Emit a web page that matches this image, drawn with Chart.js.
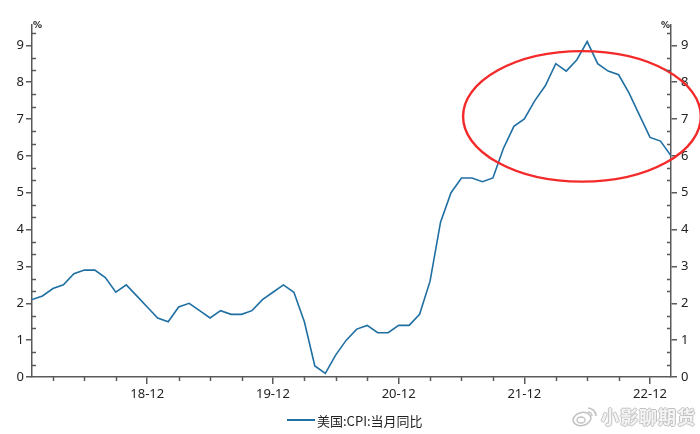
<!DOCTYPE html>
<html>
<head>
<meta charset="utf-8">
<script src="https://cdn.jsdelivr.net/npm/chart.js@4/dist/chart.umd.min.js"></script>
<style>
  html, body { margin: 0; padding: 0; background: #fff; }
  #wrap { position: relative; width: 700px; height: 434px; overflow: hidden; }
  #c { position: absolute; left: 0; top: 0; }
  .pct { position: absolute; font: bold 9px "DejaVu Sans", sans-serif; color: #222; }
  #legend { position: absolute; left: 287px; top: 410px; height: 20px; display: flex; align-items: center;
            font: 13px "Noto Sans CJK SC", sans-serif; color: #222; }
  #legend i { display: inline-block; width: 28px; height: 2px; background: #1f6fa3; margin-right: 2px; }
  #mark { position: absolute; left: 572px; top: 403px; display: flex; align-items: center;
          font: bold 18px "Noto Sans CJK SC", sans-serif; color: #f4f4f4; letter-spacing: 1px;
          text-shadow: 1px 0 0 #c2c2c2, -1px 0 0 #c2c2c2, 0 1px 0 #c2c2c2, 0 -1px 0 #c2c2c2; }
  #mark svg { margin-right: 3px; }
</style>
</head>
<body>
<div id="wrap">
  <canvas id="c" width="700" height="434"></canvas>
  <span class="pct" style="left:33px;top:20px">%</span>
  <span class="pct" style="left:661px;top:20px">%</span>
  <div id="legend"><i></i>美国:CPI:当月同比</div>
  <div id="mark">
    <svg width="26" height="22" viewBox="0 0 26 22">
      <ellipse cx="10" cy="14" rx="9" ry="6.5" fill="none" stroke="#c2c2c2" stroke-width="1.6" transform="rotate(-15 10 14)"/>
      <ellipse cx="9" cy="15" rx="4" ry="3" fill="none" stroke="#c2c2c2" stroke-width="1.4"/>
      <path d="M16 3 A8 8 0 0 1 24 11" fill="none" stroke="#c2c2c2" stroke-width="1.6"/>
      <path d="M16 7 A4 4 0 0 1 20 11" fill="none" stroke="#c2c2c2" stroke-width="1.4"/>
    </svg>小影聊期货
  </div>
</div>
<script>
// US CPI YoY (%), monthly from 2018-01 to 2023-02
const months = [];
for (let y = 2018; y <= 2023; y++) {
  for (let m = 1; m <= 12; m++) {
    if (y === 2023 && m > 2) break;
    months.push(String(y).slice(2) + '-' + String(m).padStart(2, '0'));
  }
}
const cpiYoY = [
  2.1, 2.2, 2.4, 2.5, 2.8, 2.9, 2.9, 2.7, 2.3, 2.5, 2.2, 1.9,
  1.6, 1.5, 1.9, 2.0, 1.8, 1.6, 1.8, 1.7, 1.7, 1.8, 2.1, 2.3,
  2.5, 2.3, 1.5, 0.3, 0.1, 0.6, 1.0, 1.3, 1.4, 1.2, 1.2, 1.4,
  1.4, 1.7, 2.6, 4.2, 5.0, 5.4, 5.4, 5.3, 5.4, 6.2, 6.8, 7.0,
  7.5, 7.9, 8.5, 8.3, 8.6, 9.1, 8.5, 8.3, 8.2, 7.7, 7.1, 6.5,
  6.4, 6.0
];
const xTickLabels = ['18-12', '19-12', '20-12', '21-12', '22-12'];
const yTicks = [0, 1, 2, 3, 4, 5, 6, 7, 8, 9];
const yMax = 9.55;

// month index of each labelled tick
const xTickIdx = xTickLabels.map(l => months.indexOf(l));
const lineColor = '#1f6fa3';
const axisColor = '#5a5a5a';
const tickFont = { family: 'Noto Sans', size: 13 };

const minorTicks = {
  id: 'minorTicks',
  afterDraw(chart) {
    const { ctx, scales } = chart;
    const xs = scales.x, yl = scales.yL, yr = scales.yR;
    ctx.save();
    ctx.strokeStyle = axisColor;
    ctx.lineWidth = 1.5;
    ctx.beginPath();
    // quarterly minor ticks on the date axis
    for (let i = 2; i < months.length; i += 3) {
      if (xTickIdx.includes(i)) continue;
      const px = Math.round(xs.getPixelForValue(i)) + 0.5;
      ctx.moveTo(px, xs.top);
      ctx.lineTo(px, xs.top + 4);
    }
    // one-third minor ticks on both value axes, pointing inward
    for (let k = 1; k / 3 < yMax; k++) {
      if (k % 3 === 0) continue;
      const py = Math.round(yl.getPixelForValue(k / 3)) + 0.5;
      ctx.moveTo(yl.right, py);
      ctx.lineTo(yl.right + 4, py);
      ctx.moveTo(yr.left, py);
      ctx.lineTo(yr.left - 4, py);
    }
    ctx.stroke();
    ctx.restore();
  }
};

const highlight = {
  id: 'highlight',
  afterDatasetsDraw(chart) {
    const { ctx, scales } = chart;
    const xs = scales.x, ys = scales.yL;
    const cx = xs.getPixelForValue(52.5), cy = ys.getPixelForValue(7.07);
    const rx = xs.getPixelForValue(52.5 + 11.35) - cx;
    const ry = cy - ys.getPixelForValue(7.07 + 1.77);
    ctx.save();
    ctx.strokeStyle = '#f42a2a';
    ctx.lineWidth = 2.4;
    ctx.beginPath();
    ctx.ellipse(cx, cy, rx, ry, 0, 0, Math.PI * 2);
    ctx.stroke();
    ctx.restore();
  }
};

const yAxis = (pos, width, pad) => ({
  type: 'linear',
  position: pos,
  min: 0,
  max: yMax,
  afterBuildTicks: s => { s.ticks = yTicks.map(v => ({ value: v })); },
  afterFit: s => { s.width = width; },
  grid: { drawOnChartArea: false, drawTicks: true, tickLength: 6, color: axisColor, lineWidth: 1.5 },
  border: { display: true, color: axisColor, width: 1.5 },
  ticks: { color: '#222', font: tickFont, padding: pad }
});

new Chart(document.getElementById('c'), {
  type: 'line',
  data: {
    datasets: [{
      label: '美国:CPI:当月同比',
      data: cpiYoY.map((v, i) => ({ x: i, y: v })),
      yAxisID: 'yL',
      borderColor: lineColor,
      borderWidth: 1.6,
      pointRadius: 0,
      tension: 0,
      fill: false
    }]
  },
  options: {
    responsive: false,
    animation: false,
    devicePixelRatio: 1,
    layout: { padding: { top: 25, bottom: 27, left: 0, right: 0 } },
    plugins: { legend: { display: false }, tooltip: { enabled: false } },
    scales: {
      x: {
        type: 'linear',
        position: 'bottom',
        min: 0,
        max: months.length - 1,
        afterBuildTicks: s => { s.ticks = xTickIdx.map(v => ({ value: v })); },
        afterFit: s => { s.height = 30; },
        grid: { drawOnChartArea: false, drawTicks: true, tickLength: 7, color: axisColor, lineWidth: 1.5 },
        border: { display: true, color: axisColor, width: 1.5 },
        ticks: {
          color: '#222', font: tickFont, padding: 2, maxRotation: 0, autoSkip: false,
          callback: v => months[v]
        }
      },
      yL: yAxis('left', 32, 2),
      yR: yAxis('right', 29, 4)
    }
  },
  plugins: [minorTicks, highlight]
});
</script>
</body>
</html>
